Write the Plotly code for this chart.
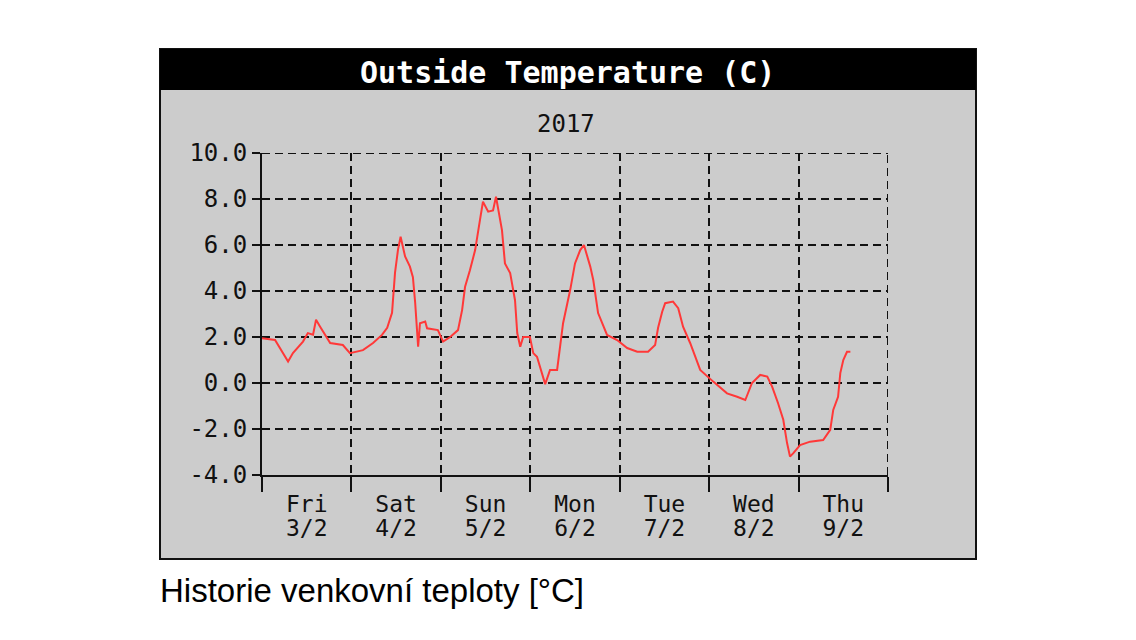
import plotly.graph_objects as go

# ---- data (hours since start of Fri 3/2 column, temperature in C) ----
hours = [0.0, 3.5, 7.0, 8.3, 11.0, 12.3, 13.7, 14.5, 15.6, 18.3, 21.7, 23.6,
         27.1, 29.8, 32.2, 33.6, 34.9, 35.7, 36.5, 37.2, 38.4, 39.7, 40.5, 41.1,
         41.9, 42.4, 43.8, 44.3, 47.2, 48.6, 50.5, 52.6, 53.7, 54.5, 55.8, 57.2,
         58.5, 59.3, 60.7, 62.0, 62.8, 63.9, 64.4, 65.2, 66.6, 67.9, 68.5, 69.3,
         70.1, 71.9, 72.8, 73.8, 75.4, 76.0, 77.3, 79.2, 80.8, 82.7, 84.0, 85.4,
         86.4, 88.1, 88.9, 90.2, 92.6, 95.3, 98.0, 100.7, 103.6, 105.5, 106.3, 107.4,
         108.2, 110.3, 111.7, 113.0, 114.9, 117.6, 121.1, 124.8, 127.5, 129.7, 131.5, 133.7,
         135.6, 136.9, 138.5, 139.9, 140.9, 141.7, 142.6, 144.4, 147.1, 150.6, 152.5, 153.3,
         154.6, 155.2, 156.0, 157.0, 157.9]
temps = [1.95, 1.87, 0.93, 1.3, 1.8, 2.17, 2.1, 2.75, 2.45, 1.74, 1.65, 1.3,
         1.43, 1.74, 2.09, 2.4, 3.05, 4.8, 5.8, 6.36, 5.5, 5.06, 4.6, 3.5,
         1.58, 2.6, 2.67, 2.38, 2.3, 1.8, 2.0, 2.3, 3.17, 4.19, 4.9, 5.78,
         7.09, 7.88, 7.45, 7.5, 8.1, 7.2, 6.65, 5.2, 4.78, 3.6, 2.17, 1.58,
         2.0, 2.0, 1.3, 1.14, 0.2, -0.05, 0.57, 0.57, 2.6, 4.04, 5.2, 5.78,
         6.0, 5.06, 4.48, 3.04, 2.09, 1.87, 1.52, 1.36, 1.36, 1.65, 2.4, 3.1,
         3.47, 3.54, 3.25, 2.45, 1.74, 0.57, 0.06, -0.45, -0.6, -0.74, 0.0, 0.35,
         0.28, -0.16, -0.88, -1.6, -2.6, -3.2, -3.05, -2.7, -2.55, -2.48, -2.04, -1.17,
         -0.6, 0.43, 1.0, 1.36, 1.36]

day_names = ["Fri", "Sat", "Sun", "Mon", "Tue", "Wed", "Thu"]
day_dates = ["3/2", "4/2", "5/2", "6/2", "7/2", "8/2", "9/2"]
day_bounds = [0, 24, 48, 72, 96, 120, 144, 168]
day_mids = [12, 36, 60, 84, 108, 132, 156]
y_ticks = [-4, -2, 0, 2, 4, 6, 8, 10]
y_ticktext = [f"{v:.1f}" for v in y_ticks]

W, H = 1136, 640
def px(x):
    return x / W
def py(y):
    return 1 - y / H

MONO = "DejaVu Sans Mono"
INK = "#111111"
DASH = "8px,5px"

fig = go.Figure()
fig.add_trace(go.Scatter(x=hours, y=temps, mode="lines",
                         line=dict(color="#ff3838", width=2),
                         hoverinfo="skip", showlegend=False))
# invisible helper trace for the second label row
fig.add_trace(go.Scatter(x=[day_bounds[0], day_bounds[-1]], y=[None, None],
                         xaxis="x2", mode="lines", hoverinfo="skip", showlegend=False))

# edge grid lines that plotly clips at the range ends
edge_grid = [
    dict(type="line", xref="x", yref="y", layer="below",
         x0=day_bounds[0], x1=day_bounds[-1], y0=y_ticks[-1], y1=y_ticks[-1],
         line=dict(color=INK, width=2, dash=DASH)),
    dict(type="line", xref="x", yref="y", layer="below",
         x0=day_bounds[-1], x1=day_bounds[-1], y0=y_ticks[0], y1=y_ticks[-1],
         line=dict(color=INK, width=2, dash=DASH)),
]

fig.update_layout(
    width=W, height=H, autosize=False,
    margin=dict(l=0, r=0, t=0, b=0, pad=0, autoexpand=False),
    paper_bgcolor="white",
    plot_bgcolor="rgba(0,0,0,0)",
    showlegend=False,
    xaxis=dict(
        domain=[px(262), px(888)],
        range=[0, 168],
        automargin=False,
        tickmode="array",
        tickvals=day_mids,
        ticktext=day_names,
        ticks="",
        showgrid=False,
        zeroline=False,
        showline=True, linecolor=INK, linewidth=2,
        tickfont=dict(family=MONO, size=23, color=INK),
        minor=dict(tickmode="array", tickvals=day_bounds, ticks="outside",
                   ticklen=15, tickwidth=2, tickcolor=INK,
                   showgrid=True, gridcolor=INK, gridwidth=2, griddash=DASH),
        ticklabelstandoff=7,
    ),
    xaxis2=dict(
        overlaying="x", anchor="y", side="bottom",
        range=[0, 168], automargin=False,
        tickmode="array", tickvals=day_mids, ticktext=day_dates,
        ticks="", showgrid=False, zeroline=False, showline=False,
        tickfont=dict(family=MONO, size=23, color=INK),
        ticklabelstandoff=37,
    ),
    yaxis=dict(
        domain=[py(475), py(153)],
        range=[-4, 10],
        automargin=False,
        tickmode="array",
        tickvals=y_ticks,
        ticktext=y_ticktext,
        ticks="outside", ticklen=8, tickwidth=2, tickcolor=INK,
        showgrid=True, gridcolor=INK, gridwidth=2, griddash=DASH,
        zeroline=False,
        showline=True, linecolor=INK, linewidth=2,
        tickfont=dict(family=MONO, size=24, color=INK),
    ),
    shapes=[
        dict(type="rect", xref="paper", yref="paper", layer="below",
             x0=px(160), x1=px(976), y0=py(559), y1=py(49),
             fillcolor="#cccccc", line=dict(color="#111111", width=2)),
        dict(type="rect", xref="paper", yref="paper", layer="below",
             x0=px(160), x1=px(976), y0=py(90), y1=py(49),
             fillcolor="#000000", line=dict(width=0)),
    ] + edge_grid,
    annotations=[
        dict(text="<b>Outside Temperature (C)</b>", xref="paper", yref="paper",
             x=px(567), y=py(72), xanchor="center", yanchor="middle",
             showarrow=False, font=dict(family=MONO, size=30, color="white")),
        dict(text="2017", xref="paper", yref="paper",
             x=px(566), y=py(124), xanchor="center", yanchor="middle",
             showarrow=False, font=dict(family=MONO, size=24, color=INK)),
        dict(text="Historie venkovní teploty [°C]", xref="paper", yref="paper",
             x=px(158), y=py(590), xanchor="left", yanchor="middle",
             showarrow=False, font=dict(family="Liberation Sans", size=33, color="black")),
    ],
)

fig.write_html("out.html")
